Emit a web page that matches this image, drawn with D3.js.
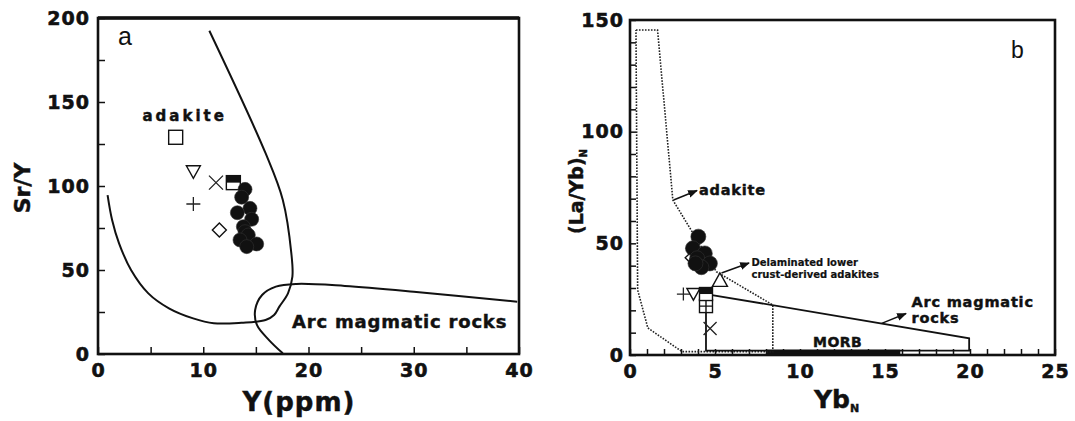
<!DOCTYPE html>
<html><head><meta charset="utf-8">
<script src="https://cdn.jsdelivr.net/npm/d3@7"></script>
<style>
body{margin:0;background:#fff;}
svg{display:block;}
.lbl{font-family:"DejaVu Sans",sans-serif;font-weight:bold;fill:#111;stroke:#111;stroke-width:0.45px;}
.tick text{font-family:"DejaVu Sans",sans-serif;font-weight:bold;font-size:19px;fill:#111;letter-spacing:1px;stroke:#111;stroke-width:0.6px;}
.tick line{stroke:#111;stroke-width:1.5;}
</style></head>
<body><svg id="c" width="1075" height="421"></svg>
<script>
// ---------- Panel a data ----------
const aSymbols = ["square","triDown","cross","halfSquare","plus","diamond"];
const aX = [7.38, 9.06, 11.21, 12.86, 9.06, 11.53];
const aY = [129, 108.5, 102, 102, 89.3, 73.8];
const aCircleX = [13.97, 13.65, 14.44, 13.24, 14.6, 13.81, 13.97, 14.28, 13.49, 15.08, 14.13];
const aCircleY = [98.0, 93.3, 86.7, 84.1, 80.2, 75.8, 72.8, 70.8, 67.9, 65.5, 63.9];
const aAdakiteCurve = [[10.58,192.4],[15.92,119.5],[17.56,91.7],[18.37,59.9],[18.47,46.0],[18.05,36.1],[17.23,28.2],[16.73,23.2],[15.92,20.2],[13.62,18.6],[11.0,18.3],[9.04,21.2],[6.74,27.2],[4.78,36.1],[3.14,50],[2.0,65.9],[1.34,79.8],[0.91,94.6]];
const aArcCurve = [[39.83,31.1],[30.0,37.1],[23.45,40.5],[18.87,41.7],[16.9,40.1],[15.59,35.1],[14.93,26.2],[15.1,17.3],[16.25,8.3],[17.56,0.4]];
const aXTicks = [0,5,10,15,20,25,30,35,40];
const aYTicks = [0,25,50,75,100,125,150,175,200];
const aXLabels = [0,10,20,30,40];
const aYLabels = [0,50,100,150,200];

// ---------- Panel b data ----------
const bSymbols = ["diamond","triUp","plus","triDown","squarePlus","halfSquare","cross"];
const bX = [3.6, 5.29, 3.14, 3.73, 4.47, 4.47, 4.71];
const bY = [43.5, 33.6, 27.3, 27.3, 21.9, 27.3, 11.9];
const bCircleX = [4.02, 3.7, 4.4, 3.95, 4.7, 4.2, 3.85];
const bCircleY = [53, 47.8, 45.5, 43.3, 41, 39.3, 41];
const bAdakiteField = [[0.35,145.5],[1.62,145.5],[2.52,69.4],[5.08,37.3],[8.4,22.4],[8.4,1.5],[3.06,1.5],[1.05,12.1],[0.45,29.1],[0.35,145.5]];
const bArcField = [[4.47,27.3],[19.95,7.5],[19.95,2],[4.47,2],[4.47,27.3]];
const bMorb = [8.0, 15.9];
const bXTicks = d3.range(0,26,1);
const bYTicks = d3.range(0,151,10);
const bXLabels = [0,5,10,15,20,25];
const bYLabels = [0,50,100,150];

const svg = d3.select("#c");
const defs = svg.append("defs");
defs.append("marker").attr("id","arr").attr("viewBox","0 0 10 10").attr("refX",9).attr("refY",5)
  .attr("markerWidth",7).attr("markerHeight",7).attr("orient","auto")
  .append("path").attr("d","M0,1 L10,5 L0,9 Z").attr("fill","#111");

function drawSymbol(g, type, cx, cy, s){
  const h = s/2;
  const st = {stroke:"#111","stroke-width":1.4,fill:"#fff"};
  const ap = (el)=>{for(const k in st) el.attr(k, st[k]); return el;};
  if(type==="square"){ ap(g.append("rect").attr("x",cx-h).attr("y",cy-h).attr("width",s).attr("height",s)); }
  else if(type==="halfSquare"){
    ap(g.append("rect").attr("x",cx-h).attr("y",cy-h).attr("width",s).attr("height",s));
    g.append("rect").attr("x",cx-h).attr("y",cy-h).attr("width",s).attr("height",h).attr("fill","#111");
  }
  else if(type==="squarePlus"){
    ap(g.append("rect").attr("x",cx-h).attr("y",cy-h).attr("width",s).attr("height",s));
    g.append("path").attr("d",`M${cx-h},${cy}H${cx+h}M${cx},${cy-h}V${cy+h}`).attr("stroke","#111").attr("stroke-width",1.4);
  }
  else if(type==="triDown"){ ap(g.append("path").attr("d",`M${cx-h},${cy-h*0.85}L${cx+h},${cy-h*0.85}L${cx},${cy+h*0.95}Z`)); }
  else if(type==="triUp"){ ap(g.append("path").attr("d",`M${cx-h},${cy+h*0.85}L${cx+h},${cy+h*0.85}L${cx},${cy-h*0.95}Z`)); }
  else if(type==="diamond"){ ap(g.append("path").attr("d",`M${cx},${cy-h}L${cx+h},${cy}L${cx},${cy+h}L${cx-h},${cy}Z`)); }
  else if(type==="cross"){ g.append("path").attr("d",`M${cx-h},${cy-h}L${cx+h},${cy+h}M${cx+h},${cy-h}L${cx-h},${cy+h}`).attr("stroke","#222").attr("stroke-width",1.3); }
  else if(type==="plus"){ g.append("path").attr("d",`M${cx-h},${cy}H${cx+h}M${cx},${cy-h}V${cy+h}`).attr("stroke","#222").attr("stroke-width",1.3); }
}

// ================= Panel a =================
const xa = d3.scaleLinear().domain([0,40]).range([98,519]);
const ya = d3.scaleLinear().domain([0,200]).range([354,18]);
const ga = svg.append("g");

ga.append("g").attr("transform",`translate(0,${ya(0)})`)
  .call(d3.axisBottom(xa).tickValues(aXTicks).tickSize(-7).tickPadding(10)
    .tickFormat(d=>aXLabels.includes(d)?d:""))
  .call(g=>g.select(".domain").remove());
ga.append("g").attr("transform",`translate(${xa(0)},0)`)
  .call(d3.axisLeft(ya).tickValues(aYTicks).tickSize(-7).tickPadding(8)
    .tickFormat(d=>aYLabels.includes(d)?d:""))
  .call(g=>g.select(".domain").remove());

const lineA = d3.line().x(d=>xa(d[0])).y(d=>ya(d[1])).curve(d3.curveCatmullRom.alpha(0.5));
ga.append("path").attr("d",lineA(aAdakiteCurve)).attr("fill","none").attr("stroke","#111").attr("stroke-width",2);
ga.append("path").attr("d",lineA(aArcCurve)).attr("fill","none").attr("stroke","#111").attr("stroke-width",2);

aSymbols.forEach((t,i)=>drawSymbol(ga,t,xa(aX[i]),ya(aY[i]),14));
ga.selectAll("circle.pt").data(aCircleX).join("circle").attr("class","pt")
  .attr("cx",(d,i)=>xa(d)).attr("cy",(d,i)=>ya(aCircleY[i])).attr("r",7)
  .attr("fill","#111").attr("stroke","#333").attr("stroke-width",0.6);

ga.append("rect").attr("x",xa(0)).attr("y",ya(200)).attr("width",xa(40)-xa(0)).attr("height",ya(0)-ya(200))
  .attr("fill","none").attr("stroke","#111").attr("stroke-width",2.6);
ga.append("line").attr("x1",xa(0)).attr("x2",xa(40)).attr("y1",ya(200)).attr("y2",ya(200)).attr("stroke","#111").attr("stroke-width",3.4);

ga.append("text").attr("class","lbl").attr("x",142.5).attr("y",120.5).style("font-size","15px").style("letter-spacing","3px").text("adakite");
ga.append("text").attr("class","lbl").attr("x",292).attr("y",328).style("font-size","18px").style("letter-spacing","0.8px").text("Arc magmatic rocks");
ga.append("text").attr("x",118).attr("y",45).style("font-family","'Liberation Sans',Arial,sans-serif").style("font-size","25px").attr("fill","#111").text("a");
ga.append("text").attr("class","lbl").attr("transform","translate(30,188) rotate(-90)").attr("text-anchor","middle").style("font-size","22px").text("Sr/Y");
ga.append("text").attr("class","lbl").attr("x",299).attr("y",411).attr("text-anchor","middle").style("font-size","26px").style("letter-spacing","1px").text("Y(ppm)");

// ================= Panel b =================
const xb = d3.scaleLinear().domain([0,25]).range([630,1055]);
const yb = d3.scaleLinear().domain([0,150]).range([355,20]);
const gb = svg.append("g");

// MORB bar
gb.append("rect").attr("x",xb(bMorb[0])).attr("y",yb(2.4)).attr("width",xb(bMorb[1])-xb(bMorb[0])).attr("height",yb(0)-yb(2.4)).attr("fill","#111");

gb.append("g").attr("transform",`translate(0,${yb(0)})`)
  .call(d3.axisBottom(xb).tickValues(bXTicks).tickSize(-6).tickPadding(10)
    .tickFormat(d=>bXLabels.includes(d)?d:""))
  .call(g=>g.select(".domain").remove());
gb.append("g").attr("transform",`translate(${xb(0)},0)`)
  .call(d3.axisLeft(yb).tickValues(bYTicks).tickSize(-6).tickPadding(6)
    .tickFormat(d=>bYLabels.includes(d)?d:""))
  .call(g=>g.select(".domain").remove());

const lineB = d3.line().x(d=>xb(d[0])).y(d=>yb(d[1]));
gb.append("path").attr("d",lineB(bAdakiteField)).attr("fill","none").attr("stroke","#222").attr("stroke-width",1.6).attr("stroke-dasharray","1.6,1.4");
gb.append("path").attr("d",lineB(bArcField)).attr("fill","none").attr("stroke","#111").attr("stroke-width",1.8);

bSymbols.forEach((t,i)=>{
  if(i===0) drawSymbol(gb,t,xb(bX[i]),yb(bY[i]),12);
});
gb.selectAll("circle.pt").data(bCircleX).join("circle").attr("class","pt")
  .attr("cx",(d,i)=>xb(d)).attr("cy",(d,i)=>yb(bCircleY[i])).attr("r",7.5)
  .attr("fill","#111").attr("stroke","#333").attr("stroke-width",0.6);
bSymbols.forEach((t,i)=>{
  if(i>0) drawSymbol(gb,t,xb(bX[i]),yb(bY[i]), t==="triUp"?15:13);
});

gb.append("rect").attr("x",xb(0)).attr("y",yb(150)).attr("width",xb(25)-xb(0)).attr("height",yb(0)-yb(150))
  .attr("fill","none").attr("stroke","#111").attr("stroke-width",2.6);

// arrows
gb.append("line").attr("x1",673.6).attr("y1",200).attr("x2",697).attr("y2",190.5).attr("stroke","#111").attr("stroke-width",1.4).attr("marker-end","url(#arr)");
gb.append("line").attr("x1",721.5).attr("y1",273).attr("x2",749).attr("y2",263).attr("stroke","#111").attr("stroke-width",1.4).attr("marker-end","url(#arr)");
gb.append("line").attr("x1",881.7).attr("y1",323.3).attr("x2",906).attr("y2",313.5).attr("stroke","#111").attr("stroke-width",1.4).attr("marker-end","url(#arr)");

gb.append("text").attr("class","lbl").attr("x",699).attr("y",194.5).style("font-size","14.5px").style("letter-spacing","0.8px").text("adakite");
gb.append("text").attr("class","lbl").attr("x",751.5).attr("y",266).style("font-size","10px").style("stroke-width","0.2px").text("Delaminated lower");
gb.append("text").attr("class","lbl").attr("x",751.5).attr("y",277.5).style("font-size","10px").style("stroke-width","0.2px").text("crust-derived adakites");
gb.append("text").attr("class","lbl").attr("x",911.5).attr("y",307).style("font-size","14.5px").style("letter-spacing","0.8px").text("Arc magmatic");
gb.append("text").attr("class","lbl").attr("x",911.5).attr("y",323).style("font-size","14.5px").style("letter-spacing","0.8px").text("rocks");
gb.append("text").attr("class","lbl").attr("x",813).attr("y",346.5).style("font-size","14px").style("letter-spacing","0.5px").text("MORB");
gb.append("text").attr("x",1011).attr("y",58).style("font-family","'Liberation Sans',Arial,sans-serif").style("font-size","23px").attr("fill","#111").text("b");

const yl = gb.append("text").attr("class","lbl").attr("transform","translate(583,234) rotate(-90)").style("font-size","19px");
yl.append("tspan").text("(La/Yb)");
yl.append("tspan").attr("dy",4).style("font-size","10px").text("N");
const xl = gb.append("text").attr("class","lbl").attr("x",814).attr("y",408).style("font-size","25px");
xl.append("tspan").text("Yb");
xl.append("tspan").attr("dy",4).style("font-size","11px").text("N");
</script></body></html>
